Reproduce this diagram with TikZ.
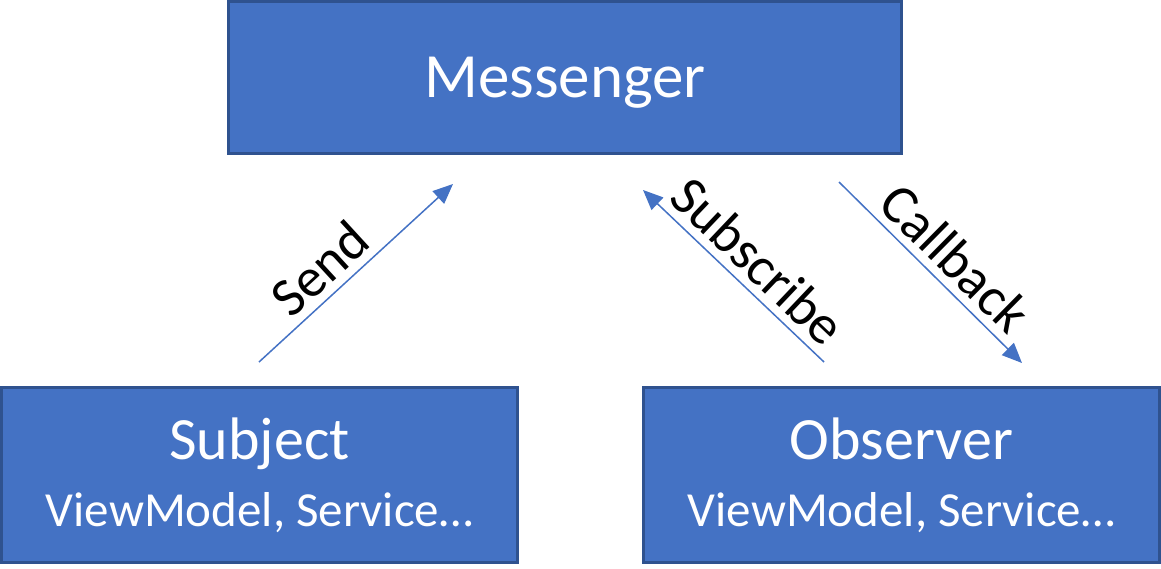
\documentclass[tikz,border=0pt]{standalone}
\usepackage{fontspec}
\setmainfont{Carlito}
\usepackage{xcolor}
\usetikzlibrary{arrows.meta, positioning}
\definecolor{boxblue}{HTML}{4472C4}
\definecolor{boxedge}{HTML}{2F528F}

\begin{document}
\begin{tikzpicture}[
    x=1pt, y=-1pt,
    box/.style={rectangle, draw=boxedge, line width=3pt, fill=boxblue, text=white, align=center, inner sep=0pt},
    part/.style={box, minimum width=516pt, minimum height=175pt, font=\fontsize{49}{67}\selectfont},
    msgtext/.style={font=\fontsize{55}{60}\selectfont, text=black, sloped, above=8pt, inner sep=0pt},
    arrow/.style={line width=1.5pt, draw=boxblue, -{Triangle[length=20pt, width=17pt]}}
]
    \useasboundingbox (0,0) rectangle (1161,568);

    \node [box, minimum width=673pt, minimum height=152pt, text depth=0pt] (messenger) at (565,77.5) {\fontsize{63}{70}\selectfont Messenger};

    \node [part] (subject) at (259.5,475)
        {{\fontsize{60}{0}\selectfont Subject}\\ViewModel, Service…};
    \node [part] (observer) at (901.5,475)
        {{\fontsize{60}{0}\selectfont Observer}\\ViewModel, Service…};

    % arrow ends sit in the gaps between the boxes
    \coordinate (send from) at (259,362);
    \coordinate (send to) at (453,184);
    \coordinate (sub tip) at (643,190);
    \coordinate (sub from) at (824,362);
    \coordinate (call from) at (839,182);
    \coordinate (call to) at (1022,363);

    \draw [arrow] (send from) -- (send to) node[msgtext, pos=0.41] (send) {Send};
    \draw [arrow, {Triangle[length=20pt, width=17pt]}-] (sub tip) -- (sub from) node[msgtext, pos=0.53] (subscribe) {Subscribe};
    \draw [arrow] (call from) -- (call to) node[msgtext, pos=0.53] (callback) {Callback};
\end{tikzpicture}
\end{document}
